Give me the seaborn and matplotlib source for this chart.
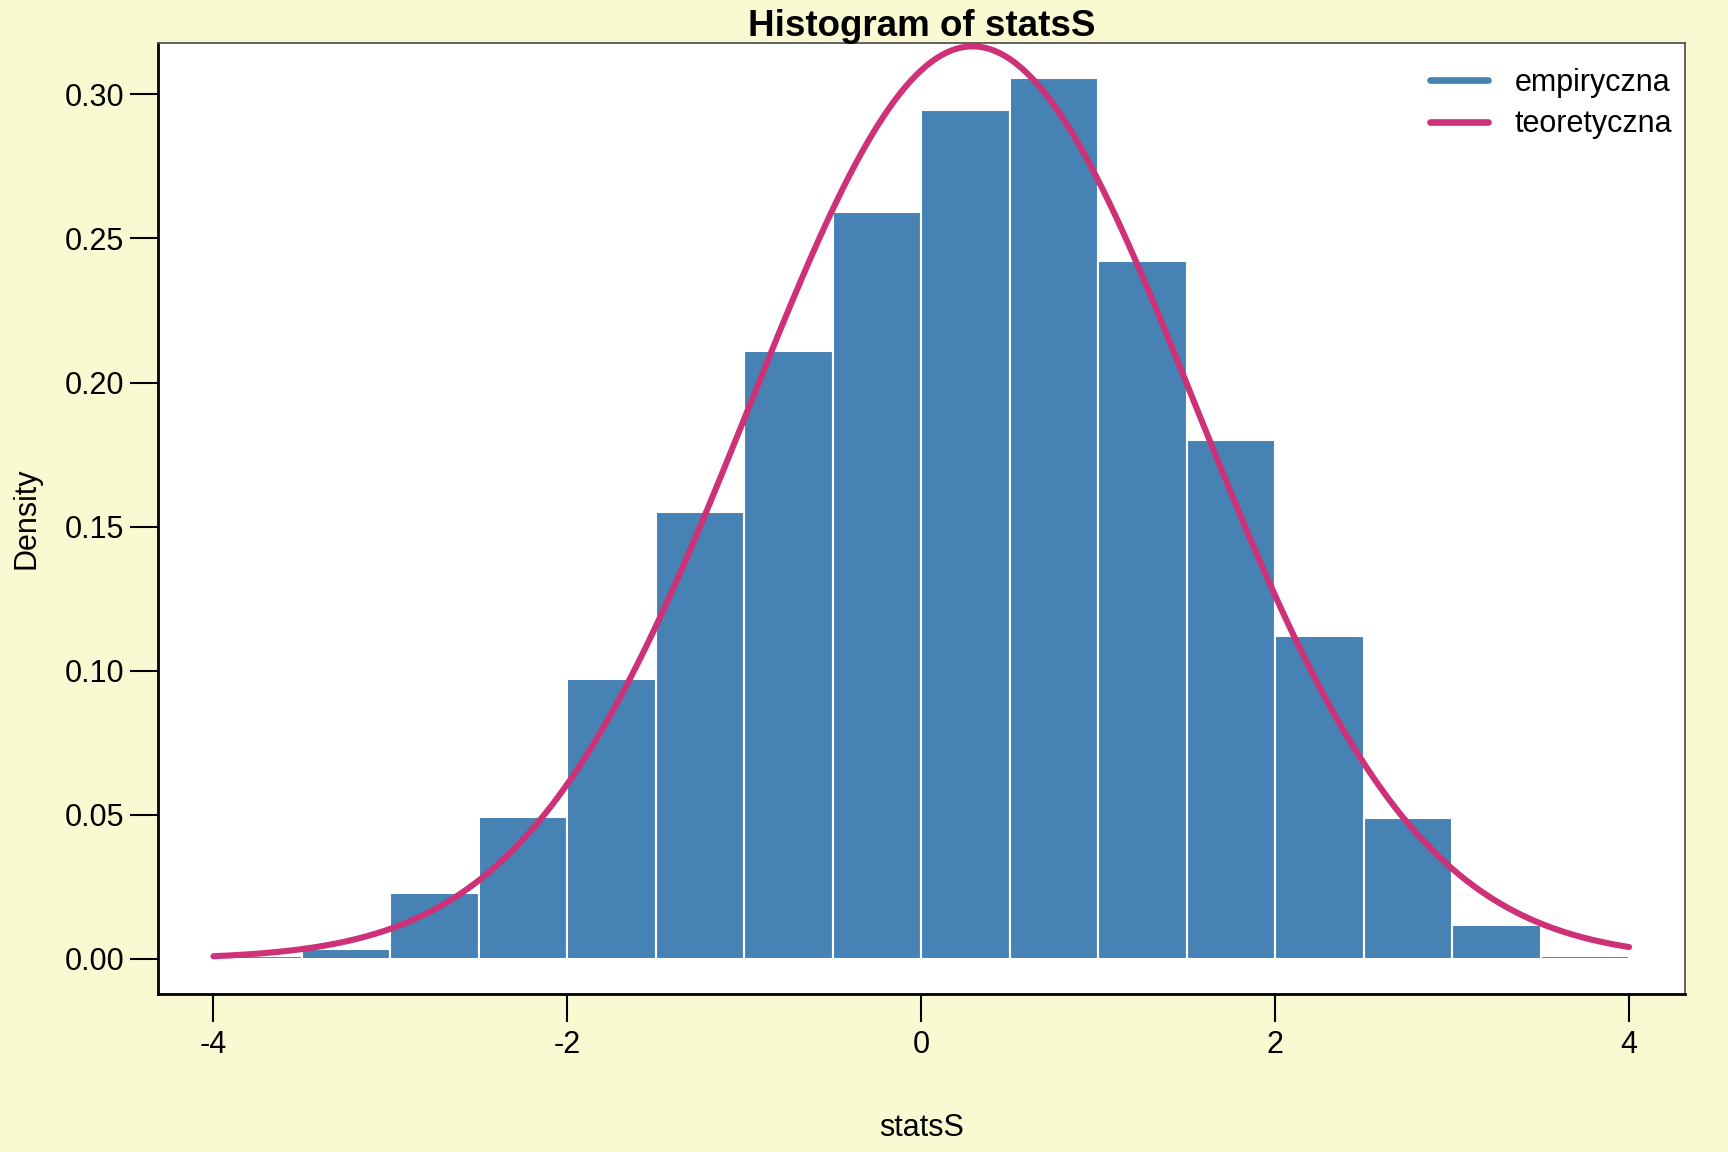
import numpy as np
import pandas as pd
import matplotlib
matplotlib.use("Agg")
import matplotlib.pyplot as plt
import seaborn as sns
from matplotlib.lines import Line2D

# ---- data ----
bin_edges = [-4.0, -3.5, -3.0, -2.5, -2.0, -1.5, -1.0, -0.5, 0.0,
             0.5, 1.0, 1.5, 2.0, 2.5, 3.0, 3.5, 4.0]
densities = [0.001, 0.0036, 0.0230, 0.0492, 0.0972, 0.1550, 0.2108, 0.2590,
             0.2946, 0.3057, 0.2423, 0.1800, 0.1120, 0.0490, 0.0118, 0.0010]
theory_mean = 0.29
theory_sd = 1.26
x_ticks = [-4, -2, 0, 2, 4]
y_ticks = [0.00, 0.05, 0.10, 0.15, 0.20, 0.25, 0.30]
legend_labels = ["empiryczna", "teoretyczna"]
title = "Histogram of statsS"
xlabel = "statsS"
ylabel = "Density"

BAR = "#4682B4"
CURVE = "#CD3278"
BG = "#FAFAD2"
FS = 22

sns.set_style("white")
plt.rcParams['font.family'] = ['Liberation Sans', 'DejaVu Sans']
plt.rcParams['axes.unicode_minus'] = False
plt.rcParams['text.color'] = 'black'
plt.rcParams['axes.labelcolor'] = 'black'
plt.rcParams['xtick.color'] = 'black'
plt.rcParams['ytick.color'] = 'black'

W, H = 1728, 1152
fig = plt.figure(figsize=(W / 100, H / 100), dpi=100, facecolor=BG)
L, R, T, B = 157.7, 1685, 42.7, 994.3
ax = fig.add_axes([L / W, 1 - B / H, (R - L) / W, (B - T) / H])
ax.set_facecolor("white")

centers = [(a + b) / 2 for a, b in zip(bin_edges[:-1], bin_edges[1:])]
df = pd.DataFrame({"x": centers, "w": densities})
sns.histplot(data=df, x="x", weights="w", bins=bin_edges, stat="count",
             color=BAR, alpha=1, edgecolor="white", linewidth=1.5, ax=ax)

xs = np.linspace(bin_edges[0], bin_edges[-1], 400)
ys = np.exp(-0.5 * ((xs - theory_mean) / theory_sd) ** 2) / (theory_sd * np.sqrt(2 * np.pi))
sns.lineplot(x=xs, y=ys, color=CURVE, linewidth=4.4, ax=ax,
             solid_capstyle="round")

ax.set_xlim(-4.315, 4.316)
ax.set_ylim(-0.01225, 0.3179)
ax.set_xticks(x_ticks)
ax.set_xticklabels([str(t) for t in x_ticks])
ax.set_yticks(y_ticks)
ax.set_yticklabels([f"{t:.2f}" for t in y_ticks])

ax.tick_params(axis="x", bottom=True, direction="out", length=20, width=1.5,
               labelsize=FS, pad=6, colors="black")
ax.tick_params(axis="y", left=True, direction="out", length=20, width=1.5,
               labelsize=FS, pad=4, colors="black")

for s in ["left", "bottom"]:
    ax.spines[s].set_color("black")
    ax.spines[s].set_linewidth(2)
for s in ["top", "right"]:
    ax.spines[s].set_color("#555555")
    ax.spines[s].set_linewidth(1.3)

ax.set_title(title, fontsize=26.5, fontweight="bold", pad=4.5, color="black")
ax.set_xlabel(xlabel, fontsize=FS)
ax.set_ylabel(ylabel, fontsize=FS)
ax.xaxis.set_label_coords(0.5, -0.1245)
ax.yaxis.set_label_coords(-0.0758, 0.5)

handles = [Line2D([0], [0], color=BAR, lw=4.8, solid_capstyle="round"),
           Line2D([0], [0], color=CURVE, lw=4.8, solid_capstyle="round")]
ax.legend(handles, legend_labels, loc="upper right", frameon=False,
          fontsize=FS, handlelength=1.9, handletextpad=0.85, labelspacing=0.38,
          borderpad=0, borderaxespad=0,
          bbox_to_anchor=(1 - 13 / (R - L), 1 - 25 / (B - T)))

fig.savefig("out.png", dpi=100, facecolor=BG)
